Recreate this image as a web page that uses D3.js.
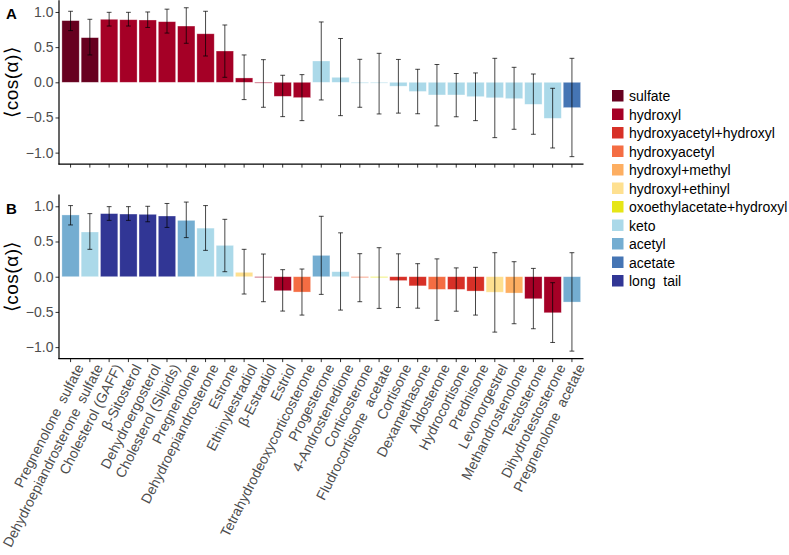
<!DOCTYPE html>
<html><head><meta charset="utf-8">
<script src="https://cdn.jsdelivr.net/npm/d3@7"></script>
<style>
body{margin:0;background:#fff;}
svg{font-family:"Liberation Sans",Arial,Helvetica,sans-serif;}
text{white-space:pre;}
</style></head>
<body><svg id="c" width="789" height="555"></svg>
<script>
const categories = ["Pregnenolone  sulfate","Dehydroepiandrosterone  sulfate","Cholesterol (GAFF)","β-Sitosterol","Dehydroergosterol","Cholesterol (Slipids)","Pregnenolone","Dehydroepiandrosterone","Estrone","Ethinylestradiol","β-Estradiol","Estriol","Tetrahydrodeoxycorticosterone","Progesterone","4-Androstenedione","Corticosterone","Fludrocortisone  acetate","Cortisone","Dexamethasone","Aldosterone","Hydrocortisone","Prednisone","Levonorgestrel","Methandrostenolone","Testosterone","Dihydrotestosterone","Pregnenolone  acetate"];
const meanCos = [0.877,0.635,0.896,0.890,0.886,0.862,0.800,0.690,0.445,0.062,-0.010,-0.199,-0.218,0.303,0.071,-0.012,-0.010,-0.055,-0.130,-0.180,-0.180,-0.204,-0.220,-0.232,-0.313,-0.512,-0.360];
const errLow = [0.735,0.389,0.800,0.800,0.780,0.700,0.555,0.374,0.071,-0.246,-0.355,-0.488,-0.545,-0.251,-0.474,-0.355,-0.450,-0.438,-0.447,-0.620,-0.490,-0.545,-0.787,-0.668,-0.739,-0.934,-1.057];
const errHigh = [1.010,0.896,0.995,0.995,1.000,1.040,1.060,1.010,0.815,0.389,0.322,0.100,0.109,0.858,0.623,0.327,0.412,0.325,0.185,0.253,0.125,0.133,0.341,0.213,0.118,-0.085,0.341];
const groupA = ["sulfate","sulfate","hydroxyl","hydroxyl","hydroxyl","hydroxyl","hydroxyl","hydroxyl","hydroxyl","hydroxyl","hydroxyl","hydroxyl","hydroxyl","keto","keto","keto","keto","keto","keto","keto","keto","keto","keto","keto","keto","keto","acetate"];
const groupB = ["acetyl","keto","long  tail","long  tail","long  tail","long  tail","acetyl","keto","keto","hydroxyl+ethinyl","hydroxyl","hydroxyl","hydroxyacetyl","acetyl","keto","hydroxyacetyl","oxoethylacetate+hydroxyl","hydroxyacetyl+hydroxyl","hydroxyacetyl+hydroxyl","hydroxyacetyl","hydroxyacetyl+hydroxyl","hydroxyacetyl+hydroxyl","hydroxyl+ethinyl","hydroxyl+methyl","hydroxyl","hydroxyl","acetyl"];
const legendGroups = ["sulfate","hydroxyl","hydroxyacetyl+hydroxyl","hydroxyacetyl","hydroxyl+methyl","hydroxyl+ethinyl","oxoethylacetate+hydroxyl","keto","acetyl","acetate","long  tail"];
const legendColors = ["#67001f","#a50026","#d73027","#f46d43","#fdae61","#fee090","#e6e617","#abd9e9","#74add1","#4575b4","#313695"];
const yTicks = [-1.0,-0.5,0.0,0.5,1.0];

const svg = d3.select("#c");
const color = d3.scaleOrdinal().domain(legendGroups).range(legendColors);
const x = d3.scaleBand().domain(categories).range([59,583.5]).paddingInner(0.1).paddingOuter(0.15);
const yDom = [-1.163,1.166];
const panels = [{top:0.3,bottom:164.1,groups:groupA,label:"A",labels:false},
                {top:194.6,bottom:358.6,groups:groupB,label:"B",labels:true}];

panels.forEach(p=>{
  const y = d3.scaleLinear().domain(yDom).range([p.bottom,p.top]);
  const g = svg.append("g");
  g.selectAll("rect.bar").data(categories).join("rect")
    .attr("x",d=>x(d)).attr("width",x.bandwidth())
    .attr("y",(d,i)=>y(Math.max(0,meanCos[i])))
    .attr("height",(d,i)=>Math.max(0.8,Math.abs(y(meanCos[i])-y(0))))
    .attr("fill",(d,i)=>color(p.groups[i]))
    .attr("stroke","#fff").attr("stroke-opacity",0.45).attr("stroke-width",0.7);
  const eb = g.append("g").attr("stroke","#000").attr("stroke-opacity",0.72).attr("stroke-width",1);
  categories.forEach((d,i)=>{
    const cx = x(d)+x.bandwidth()/2, hw = 2.4;
    eb.append("line").attr("x1",cx).attr("x2",cx).attr("y1",y(errLow[i])).attr("y2",y(errHigh[i]));
    eb.append("line").attr("x1",cx-hw).attr("x2",cx+hw).attr("y1",y(errLow[i])).attr("y2",y(errLow[i]));
    eb.append("line").attr("x1",cx-hw).attr("x2",cx+hw).attr("y1",y(errHigh[i])).attr("y2",y(errHigh[i]));
  });
  const ya = g.append("g").attr("transform","translate(59,0)")
    .call(d3.axisLeft(y).tickValues(yTicks).tickSize(3.5).tickPadding(2).tickFormat(d=>d3.format(".1f")(d).replace("-","−")));
  ya.select(".domain").remove();
  ya.selectAll(".tick line").attr("stroke","#333");
  ya.selectAll(".tick text").attr("fill","#4d4d4d").style("font-size","14px");
  const xa = g.append("g").attr("transform",`translate(0,${p.bottom})`)
    .call(d3.axisBottom(x).tickSize(3.5).tickFormat(p.labels?(d=>d):""));
  xa.select(".domain").remove();
  xa.selectAll(".tick line").attr("stroke","#333");
  if(p.labels){
    xa.selectAll(".tick text").attr("fill","#4d4d4d").style("font-size","14px")
      .attr("text-anchor","end").attr("dy",null).attr("y",null)
      .attr("transform","translate(9,6.5) rotate(-63)").attr("dominant-baseline","central");
  }
  g.append("line").attr("x1",59).attr("x2",59).attr("y1",p.top).attr("y2",p.bottom+0.5).attr("stroke","#000").attr("stroke-width",1.2);
  g.append("line").attr("x1",58.4).attr("x2",583.5).attr("y1",p.bottom).attr("y2",p.bottom).attr("stroke","#000").attr("stroke-width",1.2);
  const yc = (p.top+p.bottom)/2;
  g.append("text").attr("transform",`translate(18,${yc}) rotate(-90)`).attr("text-anchor","middle")
    .style("font-size","19px").style("letter-spacing","0.5px").attr("fill","#000").text("⟨cos(α)⟩");
  g.append("text").attr("x",6).attr("y",p.top+19).style("font-size","15px").style("font-weight","bold").text(p.label);
});

const lg = svg.append("g").attr("transform","translate(612,90)");
legendGroups.forEach((gname,i)=>{
  const row = lg.append("g").attr("transform",`translate(0,${i*18.5})`);
  row.append("rect").attr("width",11.5).attr("height",11.5).attr("fill",legendColors[i]);
  row.append("text").attr("x",17).attr("y",6).attr("dominant-baseline","central").style("font-size","14px").attr("fill","#000").text(gname);
});
</script></body></html>
